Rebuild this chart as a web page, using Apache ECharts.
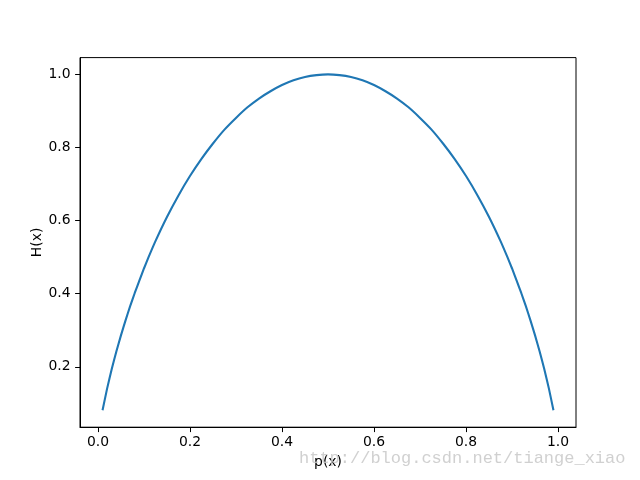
<!DOCTYPE html>
<html>
<head>
<meta charset="utf-8">
<script src="https://cdn.jsdelivr.net/npm/echarts@6/dist/echarts.min.js"></script>
<style>
html,body{margin:0;padding:0;background:#fff;}
#c{width:640px;height:480px;}
</style>
</head>
<body>
<div id="c"></div>
<script>
// Data
var pValues = [0.01, 0.02, 0.03, 0.04, 0.05, 0.06, 0.07, 0.08, 0.09, 0.10, 0.11, 0.125, 0.15, 0.175, 0.20, 0.225, 0.25, 0.275, 0.30, 0.325, 0.35, 0.375, 0.40, 0.425, 0.45, 0.475, 0.50,
               0.525, 0.55, 0.575, 0.60, 0.625, 0.65, 0.675, 0.70, 0.725, 0.75, 0.775, 0.80, 0.825, 0.85, 0.875, 0.89, 0.90, 0.91, 0.92, 0.93, 0.94, 0.95, 0.96, 0.97, 0.98, 0.99];
var hValues = [0.081, 0.141, 0.194, 0.242, 0.286, 0.327, 0.366, 0.402, 0.436, 0.469, 0.500, 0.544, 0.610, 0.669, 0.722, 0.769, 0.811, 0.849, 0.881, 0.910, 0.934, 0.954, 0.971, 0.984, 0.993, 0.998, 1.000,
               0.998, 0.993, 0.984, 0.971, 0.954, 0.934, 0.910, 0.881, 0.849, 0.811, 0.769, 0.722, 0.669, 0.610, 0.544, 0.500, 0.469, 0.436, 0.402, 0.366, 0.327, 0.286, 0.242, 0.194, 0.141, 0.081];
var xTicks = [0.0, 0.2, 0.4, 0.6, 0.8, 1.0];
var yTicks = [0.2, 0.4, 0.6, 0.8, 1.0];
var xName = 'p(x)';
var yName = 'H(x)';
var watermark = 'http://blog.csdn.net/tiange_xiao';

var data = pValues.map(function (p, i) { return [p, hValues[i]]; });
var chart = echarts.init(document.getElementById('c'), null, {renderer: 'canvas'});
var font = 'DejaVu Sans';
chart.setOption({
  animation: false,
  backgroundColor: '#fff',
  grid: {left: 80, right: 64, top: 57.6, bottom: 52.8, show: true, borderColor: '#000', borderWidth: 1, backgroundColor: 'transparent'},
  xAxis: {
    type: 'value', min: -0.039, max: 1.039,
    name: xName, nameLocation: 'middle', nameGap: 28, nameMoveOverlap: false,
    nameTextStyle: {fontFamily: font, fontSize: 13.9, color: '#000'},
    axisLine: {show: true, onZero: false, lineStyle: {color: '#000', width: 1}},
    axisTick: {show: true, inside: false, length: 4.9, lineStyle: {color: '#000', width: 1}, customValues: xTicks},
    axisLabel: {fontFamily: font, fontSize: 13.9, color: '#000', margin: 8, customValues: xTicks,
      formatter: function (v) { return v.toFixed(1); }},
    splitLine: {show: false}
  },
  yAxis: {
    type: 'value', min: 0.0348, max: 1.046,
    name: yName, nameLocation: 'middle', nameGap: 36, nameRotate: 90, nameMoveOverlap: false,
    nameTextStyle: {fontFamily: font, fontSize: 13.9, color: '#000'},
    axisLine: {show: true, onZero: false, lineStyle: {color: '#000', width: 1}},
    axisTick: {show: true, inside: false, length: 4.9, lineStyle: {color: '#000', width: 1}, customValues: yTicks},
    axisLabel: {fontFamily: font, fontSize: 13.9, color: '#000', margin: 9.5, customValues: yTicks,
      formatter: function (v) { return v.toFixed(1); }},
    splitLine: {show: false}
  },
  series: [{
    type: 'line', data: data, showSymbol: false, smooth: 0.2,
    lineStyle: {color: '#1f77b4', width: 2.1}, itemStyle: {color: '#1f77b4'}
  }],
  graphic: [{
    type: 'text', left: 299, top: 450, z: 100,
    style: {text: watermark, fontFamily: 'Liberation Mono', fontSize: 17, fill: 'rgba(200,200,200,0.85)'}
  }]
});
</script>
</body>
</html>
